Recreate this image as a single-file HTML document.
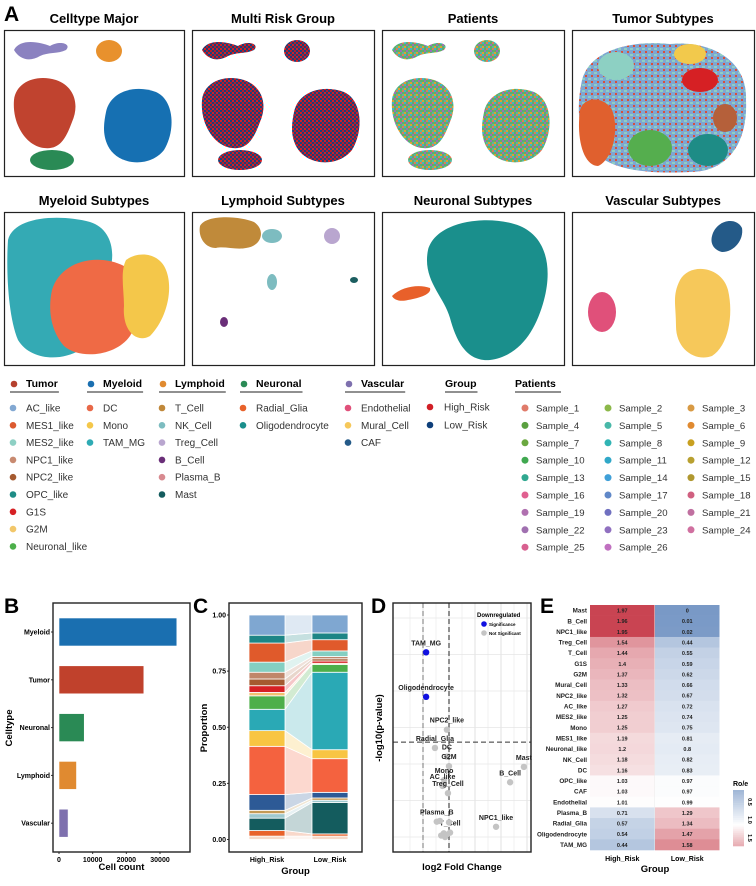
<!DOCTYPE html>
<html><head><meta charset="utf-8">
<style>
html,body{margin:0;padding:0;background:#fff;}
svg{display:block;font-family:"Liberation Sans",Arial,sans-serif;}
.pl{font-size:21px;font-weight:bold;}
.pt{font-size:13px;font-weight:bold;}
.lh{font-size:10.5px;font-weight:bold;}
.li{font-size:10px;}
.lp{font-size:9.6px;}
.tk{font-size:7px;font-weight:bold;}
.ax{font-size:9.5px;font-weight:bold;}
</style></head><body>
<svg id="fig" width="756" height="886" viewBox="0 0 756 886" xmlns="http://www.w3.org/2000/svg">
<defs>
<pattern id="risk" width="4" height="4" patternUnits="userSpaceOnUse"><rect width="4" height="4" fill="#1d3f7a"/><rect width="2" height="2" fill="#d11f26"/><rect x="2" y="2" width="2" height="2" fill="#b51d2a"/></pattern>
<pattern id="pat" width="6" height="6" patternUnits="userSpaceOnUse"><rect width="6" height="6" fill="#5fae6a"/><rect width="2" height="2" fill="#e07b5a"/><rect x="2" width="2" height="2" fill="#3fb4c8"/><rect x="4" y="2" width="2" height="2" fill="#9c6fb8"/><rect x="2" y="4" width="2" height="2" fill="#e0a030"/><rect y="4" width="2" height="2" fill="#58b8a0"/></pattern>
<pattern id="tum" width="6" height="6" patternUnits="userSpaceOnUse"><rect width="6" height="6" fill="#7ea6d2"/><rect width="3" height="2" fill="#8fcfc2"/><rect x="3" y="3" width="2" height="2" fill="#d8503a"/></pattern>
</defs>
<g id="panelA">
<text x="4" y="21" class="pl">A</text>
</g>
<g id="legend"></g>
<g id="panelB"></g>
<g id="panelC"></g>
<g id="panelD"></g>
<g id="panelE"></g>
</svg>
<script>
// ---------- data ----------
const barCats = ["Myeloid","Tumor","Neuronal","Lymphoid","Vascular"];
const barVals = [35000,25200,7500,5200,2700];
const barColors = ["#1a6fb0","#c0412c","#2a8a55","#e08a30","#7e70ae"];
const barTicks = [0,10000,20000,30000];

const propCats = ["Other","Radial_Glia","Mast","NK_Cell","T_Cell","CAF","DC","Mono","TAM_MG","Neuronal_like","G2M","G1S","NPC2_like","NPC1_like","MES2_like","MES1_like","OPC_like","AC_like"];
const propColors = ["#f6d9c8","#e8622a","#145c5e","#9fc9cf","#c49a55","#2d5a96","#f4623f","#f8c543","#2aa9b5","#4daf4a","#f2c270","#d62024","#a55a30","#c0866a","#84cfc2","#e05a2b","#1d8585","#7fa7d1"];
const propHigh = [0.015,0.025,0.055,0.02,0.015,0.07,0.215,0.07,0.095,0.06,0.015,0.03,0.03,0.03,0.045,0.085,0.035,0.09];
const propLow  = [0.015,0.01,0.14,0.01,0.01,0.025,0.15,0.04,0.345,0.035,0.005,0.01,0.01,0.01,0.025,0.05,0.03,0.08];
const propTicks = [0,0.25,0.5,0.75,1.0];
const propTickLabels = ["0.00","0.25","0.50","0.75","1.00"];
const groups = ["High_Risk","Low_Risk"];

const volNames = ["TAM_MG","Oligodendrocyte","NPC2_like","Radial_Glia","DC","G2M","Mono","AC_like","Treg_Cell","Mast","B_Cell","NPC1_like","Plasma_B","T_Cell","","","","","",""];
const volFC = [-0.88,-0.88,-0.08,-0.54,-0.08,0,-0.19,-0.25,-0.04,2.88,2.35,1.81,-0.47,0.04,-0.3,-0.2,-0.1,-0.35,0.0,-0.15];
const volP  = [2.53,1.92,1.47,1.22,1.10,0.97,0.78,0.70,0.60,0.96,0.75,0.14,0.21,0.06,0.02,0.05,0.03,0.22,0.2,0.0];
const volSig = [1,1,0,0,0,0,0,0,0,0,0,0,0,0,0,0,0,0,0,0];

const hmRows = ["Mast","B_Cell","NPC1_like","Treg_Cell","T_Cell","G1S","G2M","Mural_Cell","NPC2_like","AC_like","MES2_like","Mono","MES1_like","Neuronal_like","NK_Cell","DC","OPC_like","CAF","Endothelial","Plasma_B","Radial_Glia","Oligodendrocyte","TAM_MG"];
const hmHigh = [1.97,1.96,1.95,1.54,1.44,1.4,1.37,1.33,1.32,1.27,1.25,1.25,1.19,1.2,1.18,1.16,1.03,1.03,1.01,0.71,0.57,0.54,0.44];
const hmLow  = [0,0.01,0.02,0.44,0.55,0.59,0.62,0.66,0.67,0.72,0.74,0.75,0.81,0.8,0.82,0.83,0.97,0.97,0.99,1.29,1.34,1.47,1.58];

const NS="http://www.w3.org/2000/svg";
function mk(parent,tag,attrs,txt){const e=document.createElementNS(NS,tag);for(const k in attrs)e.setAttribute(k,attrs[k]);if(txt!==undefined)e.textContent=txt;parent.appendChild(e);return e;}

// ---------- Panel A UMAPs ----------
const A=document.getElementById('panelA');
const boxes=[
 ["Celltype Major",4,30,180,146],["Multi Risk Group",192,30,182,146],["Patients",382,30,182,146],["Tumor Subtypes",572,30,182,146],
 ["Myeloid Subtypes",4,212,180,153],["Lymphoid Subtypes",192,212,182,153],["Neuronal Subtypes",382,212,182,153],["Vascular Subtypes",572,212,182,153]];
boxes.forEach((b,i)=>{
 const t=mk(A,'text',{x:b[1]+b[3]/2,y:b[2]-7,'text-anchor':'middle',class:'pt'},b[0]);
 
 
 const r=mk(A,'rect',{x:b[1]+0.5,y:b[2]+0.5,width:b[3],height:b[4],fill:'#fff',stroke:'#222','stroke-width':1.2});
 
 
});
function major(dx,fills){
 const g=mk(A,'g',{transform:'translate('+dx+',0)'});
 
 
 mk(g,'path',{d:'M14,50 C20,38 40,42 50,46 C60,40 72,44 66,50 C58,54 48,52 40,56 C30,62 20,60 14,50Z',fill:fills[0]});
 mk(g,'ellipse',{cx:109,cy:51,rx:13,ry:11,fill:fills[1]});
 mk(g,'path',{d:'M14,100 C16,82 36,74 56,80 C74,86 80,104 72,122 C66,138 60,150 44,148 C26,146 12,124 14,100Z',fill:fills[2]});
 mk(g,'path',{d:'M106,112 C110,92 134,84 156,92 C174,100 176,130 164,150 C150,168 118,166 108,146 C102,134 104,122 106,112Z',fill:fills[3]});
 mk(g,'ellipse',{cx:52,cy:160,rx:22,ry:10,fill:fills[4]});
}
major(0,['#8b82c0','#e8912d','#c0432f','#1670b2','#2a8a55']);
major(188,['url(#risk)','url(#risk)','url(#risk)','url(#risk)','url(#risk)']);
major(378,['url(#pat)','url(#pat)','url(#pat)','url(#pat)','url(#pat)']);
(function(){const g=mk(A,'g',{});
 mk(g,'path',{d:'M582,80 C590,50 630,40 670,44 C710,40 748,60 746,100 C748,140 730,172 690,172 C650,174 600,172 586,140 C576,120 578,100 582,80Z',fill:'url(#tum)'});
 mk(g,'path',{d:'M580,110 C584,96 604,96 612,110 C620,130 612,160 598,166 C584,166 576,140 580,110Z',fill:'#e0602e'});
 mk(g,'ellipse',{cx:650,cy:148,rx:22,ry:18,fill:'#55ae4e'});
 mk(g,'ellipse',{cx:708,cy:150,rx:20,ry:16,fill:'#1e8c86'});
 mk(g,'ellipse',{cx:690,cy:54,rx:16,ry:10,fill:'#f2c94c'});
 mk(g,'ellipse',{cx:700,cy:80,rx:18,ry:12,fill:'#d62024'});
 mk(g,'ellipse',{cx:616,cy:66,rx:18,ry:14,fill:'#8dd0c3'});
 mk(g,'ellipse',{cx:725,cy:118,rx:12,ry:14,fill:'#b5603a'});
})();
(function(){const g=mk(A,'g',{});
 mk(g,'path',{d:'M8,240 C14,216 60,214 90,222 C110,228 116,250 110,270 C104,300 100,330 80,350 C60,362 30,360 18,340 C8,316 6,270 8,240Z',fill:'#34aab4'});
 mk(g,'path',{d:'M52,290 C60,262 96,252 124,266 C144,276 146,310 130,336 C116,356 80,360 64,346 C50,330 48,308 52,290Z',fill:'#ef6a45'});
 mk(g,'path',{d:'M126,260 C140,250 160,254 166,270 C174,290 166,320 150,336 C136,344 122,330 124,306 C124,290 120,272 126,260Z',fill:'#f4c74a'});
 mk(g,'path',{d:'M200,226 C206,214 240,216 254,222 C266,230 262,246 246,248 C236,250 224,246 216,248 C204,248 198,236 200,226Z',fill:'#c08a3a'});
 mk(g,'ellipse',{cx:272,cy:236,rx:10,ry:7,fill:'#7dbcc0'});
 mk(g,'ellipse',{cx:332,cy:236,rx:8,ry:8,fill:'#b9a6cf'});
 mk(g,'ellipse',{cx:272,cy:282,rx:5,ry:8,fill:'#7dbcc0'});
 mk(g,'ellipse',{cx:224,cy:322,rx:4,ry:5,fill:'#6a2e78'});
 mk(g,'ellipse',{cx:354,cy:280,rx:4,ry:3,fill:'#1c5e60'});
 mk(g,'path',{d:'M428,250 C436,220 490,214 520,226 C548,238 552,270 544,300 C536,330 520,356 490,360 C466,362 456,340 450,318 C444,296 422,280 428,250Z',fill:'#1a8f8c'});
 mk(g,'path',{d:'M392,296 C402,286 420,284 430,288 C432,294 420,298 408,300 C400,302 394,300 392,296Z',fill:'#e8602a'});
 mk(g,'ellipse',{cx:602,cy:312,rx:14,ry:20,fill:'#e0507a'});
 mk(g,'path',{d:'M680,280 C690,262 722,266 728,290 C734,316 728,346 712,356 C696,362 676,350 676,326 C676,304 672,296 680,280Z',fill:'#f6c85a'});
 mk(g,'path',{d:'M712,236 C716,220 736,216 742,228 C744,240 734,252 722,252 C714,250 710,244 712,236Z',fill:'#245a88'});
})();

// ---------- Legend ----------
const L=document.getElementById('legend');
const legendCols=[
 {h:"Tumor",hc:"#b5402e",x:12,items:[["AC_like","#82a8d2"],["MES1_like","#dc5a30"],["MES2_like","#8ed0c4"],["NPC1_like","#c88a70"],["NPC2_like","#a55a30"],["OPC_like","#1e8c86"],["G1S","#d62024"],["G2M","#f2c76a"],["Neuronal_like","#4caf4a"]]},
 {h:"Myeloid",hc:"#1a6fb0",x:89,items:[["DC","#e86848"],["Mono","#f4c74a"],["TAM_MG","#2fabb4"]]},
 {h:"Lymphoid",hc:"#e08a30",x:161,items:[["T_Cell","#c0883a"],["NK_Cell","#7dbcc0"],["Treg_Cell","#b9a6cf"],["B_Cell","#6a2e78"],["Plasma_B","#d88a90"],["Mast","#145c5e"]]},
 {h:"Neuronal",hc:"#2a8a55",x:242,items:[["Radial_Glia","#e8622a"],["Oligodendrocyte","#1a8f8c"]]},
 {h:"Vascular",hc:"#7e70ae",x:347,items:[["Endothelial","#e0507a"],["Mural_Cell","#f6c85a"],["CAF","#245a88"]]},
 {h:"Group",hc:null,x:428,items:[["High_Risk","#d11f26"],["Low_Risk","#0e3f7a"]]}];
legendCols.forEach((c,ci)=>{
 const hx=c.hc?c.x+14:c.x+17;
 if(c.hc){const d=mk(L,'circle',{cx:c.x+2,cy:384,r:3.3,fill:c.hc});}
 const t=mk(L,'text',{x:hx,y:387,class:'lh'},c.h);
 
 
 const w=t.getComputedTextLength?t.getComputedTextLength():50;
 mk(L,'line',{x1:c.hc?c.x-2:hx,x2:hx+w+1,y1:392,y2:392,stroke:'#222','stroke-width':1});
 c.items.forEach((it,i)=>{
  const y=c.h==="Group"?407+i*18:408+i*17.3;
  const d=mk(L,'circle',{cx:c.h==="Group"?c.x+2:c.x+1,cy:y,r:3.3,fill:it[1]});
  
  
  const tt=mk(L,'text',{x:c.h==="Group"?c.x+16:c.x+14,y:y+3.5,class:'li',fill:'#333'},it[0]);
  
  
 });
});
(function(){
 const t=mk(L,'text',{x:515,y:387,class:'lh'},"Patients");
 
 
 mk(L,'line',{x1:515,x2:561,y1:392,y2:392,stroke:'#222','stroke-width':1});
 const pc=["#e07b6a","#8cb84a","#d89a44","#5aa040","#48b8a8","#e08a30","#6aa840","#30b4b4","#c8a020","#40a850","#30a8c8","#b8a030","#30a890","#40a0d8","#b09830","#e06090","#6088c8","#d06080","#b070b0","#7070c0","#c070a0","#a070b0","#9070c0","#d070a0","#d86090","#c070c0"];
 for(let i=0;i<26;i++){
  const col=i%3,row=Math.floor(i/3);
  const x=525+col*83,y=408+row*17.4;
  const d=mk(L,'circle',{cx:x,cy:y,r:3.5,fill:pc[i]});
  
  
  const tt=mk(L,'text',{x:x+11,y:y+3.5,class:'lp',fill:'#333'},"Sample_"+(i+1));
  
  
 }
})();

// ---------- Panel B ----------
(function(){
 const G=document.getElementById('panelB');
 const x0=53,x1=190,y0=603,y1=852;
 const xs=v=>59+v*(101/30000);
 const rowY=i=>632+i*47.8;
 mk(G,'text',{x:4,y:613,class:'pl'},'B');
 barCats.forEach((c,i)=>{
  const r=mk(G,'rect',{x:xs(0),y:rowY(i)-14,width:xs(barVals[i])-xs(0),height:28,fill:barColors[i],stroke:'#fff','stroke-width':0.6});
  
  
  const t=mk(G,'text',{x:x0-3,y:rowY(i)+2.5,'text-anchor':'end',class:'tk'},c);
  
  
  mk(G,'line',{x1:x0-2,x2:x0,y1:rowY(i),y2:rowY(i),stroke:'#333'});
 });
 barTicks.forEach(v=>{
  mk(G,'line',{x1:xs(v),x2:xs(v),y1:y1,y2:y1+2,stroke:'#333'});
  const t=mk(G,'text',{x:xs(v),y:y1+10,'text-anchor':'middle',class:'tk'},String(v));
  
  
 });
 mk(G,'rect',{x:x0,y:y0,width:x1-x0,height:y1-y0,fill:'none',stroke:'#222','stroke-width':1.4});
 const xt=mk(G,'text',{x:(x0+x1)/2,y:870,'text-anchor':'middle',class:'ax'},'Cell count');
 
 const yt=mk(G,'text',{x:0,y:0,transform:'translate(12,728) rotate(-90)','text-anchor':'middle',class:'ax'},'Celltype');
 
})();

// ---------- Panel C ----------
(function(){
 const G=document.getElementById('panelC');
 const x0=229,x1=362,y0=603,y1=852;
 const ys=v=>839.5-v*224.5;
 const colX=[249,312],cw=36;
 mk(G,'text',{x:193,y:613,class:'pl'},'C');
 let cH=0,cL=0;
 propCats.forEach((c,i)=>{
  const h0=cH,h1=cH+propHigh[i],l0=cL,l1=cL+propLow[i];
  const f=mk(G,'polygon',{points:`${colX[0]+cw},${ys(h1)} ${colX[1]},${ys(l1)} ${colX[1]},${ys(l0)} ${colX[0]+cw},${ys(h0)}`,fill:propColors[i],'fill-opacity':0.25,stroke:'#fff','stroke-width':0.8});
  
  
  const a=mk(G,'rect',{x:colX[0],y:ys(h1),width:cw,height:ys(h0)-ys(h1),fill:propColors[i],stroke:'#fff','stroke-width':0.8});
  
  
  const b=mk(G,'rect',{x:colX[1],y:ys(l1),width:cw,height:ys(l0)-ys(l1),fill:propColors[i],stroke:'#fff','stroke-width':0.8});
  
  
  cH=h1;cL=l1;
 });
 propTicks.forEach((v,i)=>{
  mk(G,'line',{x1:x0-2,x2:x0,y1:ys(v),y2:ys(v),stroke:'#333'});
  const t=mk(G,'text',{x:x0-3,y:ys(v)+2.5,'text-anchor':'end',class:'tk'},propTickLabels[i]);
  
 });
 groups.forEach((g,i)=>{
  const t=mk(G,'text',{x:colX[i]+cw/2,y:862,'text-anchor':'middle',class:'tk'},g);
  
 });
 mk(G,'rect',{x:x0,y:y0,width:x1-x0,height:y1-y0,fill:'none',stroke:'#222','stroke-width':1.4});
 const xt=mk(G,'text',{x:(x0+x1)/2,y:874,'text-anchor':'middle',class:'ax'},'Group');
 
 const yt=mk(G,'text',{x:0,y:0,transform:'translate(207,728) rotate(-90)','text-anchor':'middle',class:'ax'},'Proportion');
 
})();

// ---------- Panel D ----------
(function(){
 const G=document.getElementById('panelD');
 const x0=393,x1=531,y0=603,y1=852;
 const xs=v=>449+v*26;
 const ys=v=>837-v*73;
 mk(G,'text',{x:371,y:613,class:'pl'},'D');
 [-1.5,-0.5,0.5,1.5,2.5].forEach(v=>mk(G,'line',{x1:xs(v),x2:xs(v),y1:y0,y2:y1,stroke:'#eaeaea','stroke-width':0.6}));
 [-1,0,1,2,3].forEach(v=>mk(G,'line',{x1:xs(v),x2:xs(v),y1:y0,y2:y1,stroke:'#e0e0e0','stroke-width':1}));
 [0,0.5,1,1.5,2,2.5,3].forEach(v=>mk(G,'line',{x1:x0,x2:x1,y1:ys(v),y2:ys(v),stroke:'#e6e6e6','stroke-width':0.8}));
 mk(G,'line',{x1:xs(-1),x2:xs(-1),y1:y0,y2:y1,stroke:'#777','stroke-dasharray':'5,3','stroke-width':1});
 mk(G,'line',{x1:xs(0),x2:xs(0),y1:y0,y2:y1,stroke:'#222','stroke-dasharray':'5,3','stroke-width':1});
 mk(G,'line',{x1:x0,x2:x1,y1:ys(1.3),y2:ys(1.3),stroke:'#333','stroke-dasharray':'5,3','stroke-width':1});
 volFC.forEach((v,i)=>{
  const c=mk(G,'circle',{cx:xs(v),cy:ys(volP[i]),r:3.2,fill:volSig[i]?'#1010e0':'#c4c4c4'});
  
  
  if(volNames[i]){
   const t=mk(G,'text',{x:xs(v),y:ys(volP[i])-7,'text-anchor':'middle',class:'tk',fill:'#222'},volNames[i]);
   
  }
 });
 mk(G,'text',{x:477,y:617,style:'font-size:6px;font-weight:bold'},'Downregulated');
 mk(G,'circle',{cx:484,cy:624,r:2.8,fill:'#1010e0'});
 mk(G,'text',{x:489,y:626,style:'font-size:4.5px;font-weight:bold'},'Significance');
 mk(G,'circle',{cx:484,cy:633,r:2.8,fill:'#c4c4c4'});
 mk(G,'text',{x:489,y:635,style:'font-size:4.5px;font-weight:bold'},'Not Significant');
 mk(G,'rect',{x:x0,y:y0,width:x1-x0,height:y1-y0,fill:'none',stroke:'#222','stroke-width':1.4});
 const xt=mk(G,'text',{x:(x0+x1)/2,y:870,'text-anchor':'middle',class:'ax'},'log2 Fold Change');
 
 const yt=mk(G,'text',{x:0,y:0,transform:'translate(382,728) rotate(-90)','text-anchor':'middle',class:'ax'},'-log10(p-value)');
 
})();

// ---------- Panel E ----------
(function(){
 const G=document.getElementById('panelE');
 const hx=[590,655],cw=64.5,top=605,rh=245/23;
 function col(v){
  const r0=[201,68,82],w=[255,255,255],b0=[121,153,198];
  let t,c;
  if(v>=1){t=Math.min((v-1)/0.95,1);c=r0;}else{t=Math.min((1-v)/1,1);c=b0;}
  return 'rgb('+w.map((x,i)=>Math.round(x+(c[i]-x)*t)).join(',')+')';
 }
 mk(G,'text',{x:540,y:613,class:'pl'},'E');
 mk(G,'rect',{x:hx[0],y:top,width:cw*2,height:245,fill:'#ebebeb'});
 hmRows.forEach((r,i)=>{
  const y=top+i*rh;
  [hmHigh,hmLow].forEach((arr,j)=>{
   const c=mk(G,'rect',{x:hx[j],y:y,width:cw,height:rh+0.3,fill:col(arr[i])});
   
   
   const t=mk(G,'text',{x:hx[j]+cw/2,y:y+rh/2+2.2,'text-anchor':'middle',style:'font-size:5.5px;font-weight:bold',fill:'#222'},String(arr[i]));
   
  });
  const l=mk(G,'text',{x:587,y:y+rh/2+2.3,'text-anchor':'end',style:'font-size:6.3px;font-weight:bold',fill:'#222'},r);
  
 });
 groups.forEach((g,i)=>{
  const t=mk(G,'text',{x:hx[i]+cw/2,y:861,'text-anchor':'middle',class:'tk'},g);
  
 });
 const xt=mk(G,'text',{x:655,y:872,'text-anchor':'middle',class:'ax'},'Group');
 
 const steps=30;
 for(let k=0;k<steps;k++){
  const v=0.3+(1.45-0.3)*k/steps;
  mk(G,'rect',{x:733,y:790+k*(56/steps),width:11,height:56/steps+0.3,fill:col(v)});
 }
 mk(G,'text',{x:733,y:786,style:'font-size:7px;font-weight:bold'},'Ro/e');
 [['0.5',802],['1.0',820],['1.5',838]].forEach(p=>{
  mk(G,'text',{x:0,y:0,transform:`translate(748,${p[1]}) rotate(90)`,'text-anchor':'middle',style:'font-size:5.5px;font-weight:bold'},p[0]);
 });
})();
</script>
</body></html>
